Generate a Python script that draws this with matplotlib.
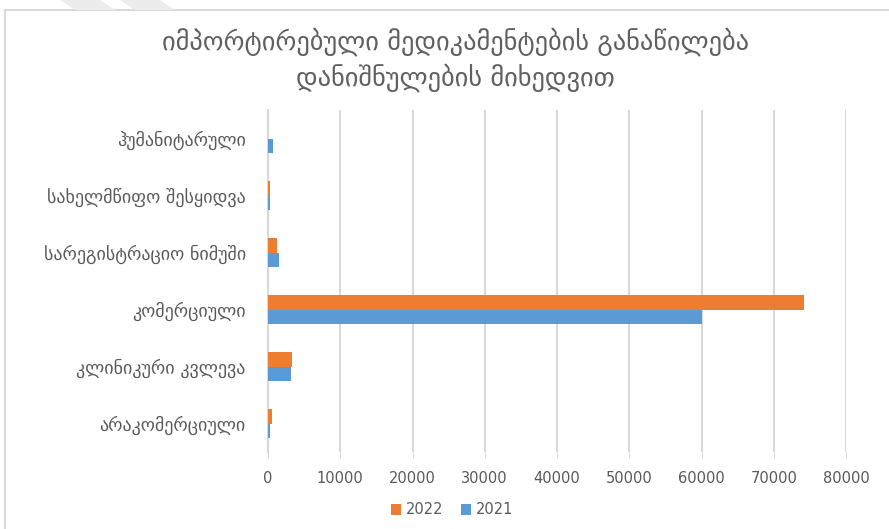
import matplotlib.pyplot as plt
import numpy as np
from matplotlib.patches import Rectangle, Polygon

plt.rcParams['font.family'] = ['DejaVu Sans']

# categories bottom -> top
categories = ["არაკომერციული", "კლინიკური კვლევა", "კომერციული",
              "სარეგისტრაციო ნიმუში", "სახელმწიფო შესყიდვა", "ჰუმანიტარული"]
values_2022 = [600, 3350, 74200, 1200, 300, 50]
values_2021 = [250, 3200, 60000, 1500, 250, 700]
xticks = [0, 10000, 20000, 30000, 40000, 50000, 60000, 70000, 80000]

title = "იმპორტირებული მედიკამენტების განაწილება\nდანიშნულების მიხედვით"

grey = "#595959"
fig = plt.figure(figsize=(8.89, 5.29), dpi=100)

# slide frame and faint decoration
fig.patches.append(Rectangle((5 / 889, -0.1), 1.1, 1 - 10 / 529 + 0.1,
                             transform=fig.transFigure, fill=False,
                             edgecolor="#d9d9d9", linewidth=1.5))
for x0 in (60, 120):
    fig.patches.append(Polygon([(x0 / 889, 1), ((x0 + 40) / 889, 1),
                                ((x0 + 55) / 889, 1 - 10 / 529), ((x0 + 15) / 889, 1 - 10 / 529)],
                               closed=True, transform=fig.transFigure,
                               facecolor="#ececec", edgecolor="none"))

ax = fig.add_axes([268 / 889, 1 - 452 / 529, (846 - 268) / 889, (452 - 110) / 529])

y = np.arange(len(categories))
h = 0.25
ax.barh(y + h / 2, values_2022, height=h, color="#ED7D31", label="2022", zorder=3)
ax.barh(y - h / 2, values_2021, height=h, color="#5B9BD5", label="2021", zorder=3)

ax.set_xlim(0, 80000)
ax.set_ylim(-0.5, len(categories) - 0.5)
ax.set_xticks(xticks)
ax.set_xticklabels([str(v) for v in xticks], fontsize=10.5, color=grey)
ax.set_yticks(y)
ax.set_yticklabels(categories, fontsize=13, color=grey)
ax.tick_params(axis="y", length=0, pad=16)
ax.tick_params(axis="x", length=4, color="#d9d9d9", pad=10)
ax.grid(axis="x", color="#d9d9d9", linewidth=1.5, zorder=0)
for s in ["top", "right", "bottom"]:
    ax.spines[s].set_visible(False)
ax.spines["left"].set_color("#d9d9d9")
ax.spines["left"].set_linewidth(1.5)

fig.text(455 / 889, 1 - 60 / 529, title, ha="center", va="center",
         fontsize=19, color="#606060", linespacing=1.35)

handles, labels = ax.get_legend_handles_labels()
fig.legend(handles, labels, loc="center", bbox_to_anchor=(452 / 889, 1 - 510 / 529),
           ncol=2, frameon=False, fontsize=10.5, labelcolor=grey,
           handlelength=0.7, handleheight=0.7, handletextpad=0.3, columnspacing=1.2)

fig.savefig("out.png", dpi=100)
